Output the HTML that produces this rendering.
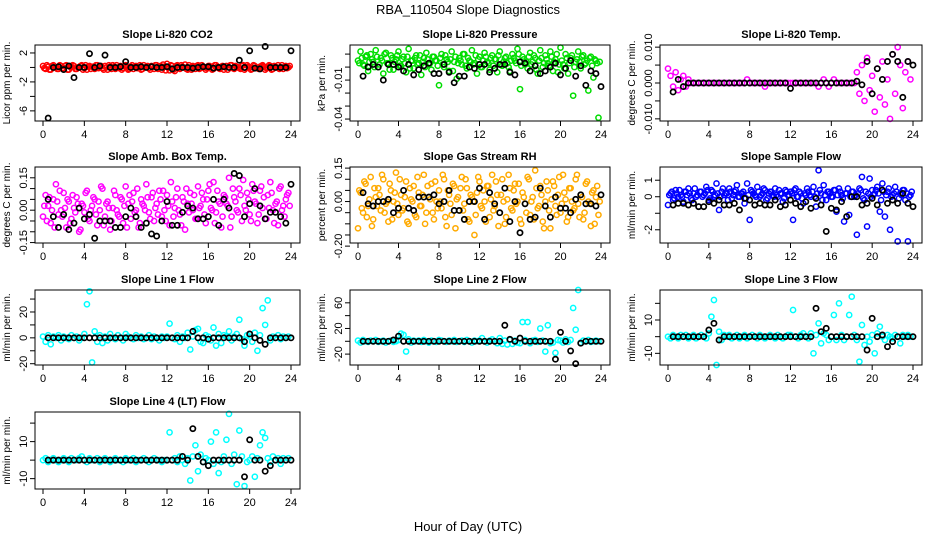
<!DOCTYPE html>
<html><head><meta charset="utf-8">
<style>
body{margin:0;background:#fff;}
svg{display:block;font-family:"Liberation Sans",sans-serif;}
</style></head>
<body>
<svg id="chart" width="936" height="540" viewBox="0 0 936 540" xmlns="http://www.w3.org/2000/svg">
<rect x="0" y="0" width="936" height="540" fill="#fff"/>
<text x="468" y="14" font-size="13" text-anchor="middle">RBA_110504  Slope Diagnostics</text>
<text x="468" y="531" font-size="13" text-anchor="middle">Hour of Day (UTC)</text>
<g id="panels"></g>
</svg>
<script>
// ---- data (colored series sampled every 0.25 h, second colored series offset by 0.125 h, black series every 0.5 h from 0.5) ----
const xTicks = [0,4,8,12,16,20,24];
const xTickLabels = ['0','4','8','12','16','20','24'];

const co2Color = [0.2,-0.2,0.1,-0.3,0.3,0,-0.2,0.2,-0.1,0.3,-0.3,0.1,0.2,-0.2,0,0.3,-0.1,-0.3,0.2,0.1,-0.2,0.3,0,-0.1,0.2,-0.3,0.1,0.3,-0.2,0,0.2,-0.1,0.3,-0.3,0.1,-0.2,0.2,0,-0.3,0.3,0.1,-0.1,0.2,-0.2,0.3,0,-0.3,0.1,0.5,-0.4,0.2,-0.5,0.3,-0.2,0.1,0.4,-0.3,0,0.2,-0.2,0.3,-0.1,0.1,-0.3,0.2,0,-0.2,0.3,-0.1,0.1,-0.3,0.2,0,0.3,-0.2,0.1,-0.1,0.2,-0.3,0.3,0,-0.2,0.2,-0.1,0.1,0.3,-0.3,0,0.2,-0.2,0.1,0.3,-0.1,-0.2,0.2,0];
const co2Color2 = [-0.1,0.3,-0.3,0.2,0,-0.2,0.3,-0.1,0.2,-0.3,0.1,0.3,-0.2,0,0.2,-0.3,0.3,0.1,-0.2,0,0.3,-0.1,0.2,-0.3,0,0.3,-0.2,0.1,0.3,-0.1,-0.3,0.2,0,-0.2,0.3,0.1,-0.1,0.3,-0.2,0,0.2,-0.3,0.1,0.3,-0.2,0.2,0.4,-0.4,0.1,0.3,-0.3,0.2,-0.1,0.3,0,-0.2,0.3,-0.3,0.1,0.2,-0.2,0.3,0,-0.1,0.2,-0.3,0.3,0.1,-0.2,0.2,0,-0.3,0.3,-0.1,0.2,0,-0.2,0.3,-0.1,0.1,-0.3,0.3,0,-0.2,0.2,0.1,-0.1,0.3,-0.3,0.2,0,-0.2,0.3,0.1,-0.1,0.2];
const co2Black = [-7,0,0.1,-0.3,0.2,-1.4,0,0,1.9,0,0.2,1.7,0,0,0.1,0.8,0,0,0.1,0,0.1,0,0,0.1,-0.2,0,0,0,-0.1,0,0.1,0.1,-0.1,0,0.1,0,0,1,0,2.3,-0.1,-0.2,2.9,0,0,0,0,2.3];
const co2Ticks = [2,0,-2,-4,-6];
const co2TickLabels = ['2','','-2','','-6'];

const presColor = [5,12,2,8,-3,10,4,13,0,7,-5,11,3,9,-2,6,12,1,8,-4,14,5,-1,9,3,-6,7,11,2,-2,8,5,-14,10,0,6,-3,12,4,-9,7,2,10,-1,5,13,3,-5,8,0,11,4,-2,9,6,-4,12,1,7,3,-3,10,5,14,-17,8,2,-1,11,4,7,-5,13,0,9,3,12,-3,6,-4,15,2,10,-5,7,-22,4,12,-1,9,3,-18,8,-8,5,-39];
const presColor2 = [3,7,1,9,4,6,0,8,2,5,10,3,-2,7,4,9,1,6,3,8,-1,5,7,2,9,4,0,6,3,8,5,1,7,2,9,4,6,-3,8,3,5,10,1,7,4,2,9,6,0,5,8,3,7,1,6,9,2,4,8,0,5,7,3,10,1,6,4,8,2,9,-2,5,7,3,6,1,8,4,10,2,5,-1,7,3,9,0,6,4,8,2,5,7,1,6,3,4];
const presBlack = [-7,0,2,0,-10,2,2,0,-3,2,-6,-2,1,3,-5,-5,2,-4,-12,-7,-7,0,-1,2,2,-4,-1,2,2,-4,-6,4,3,-3,1,-5,-3,0,3,-6,-1,5,-7,1,-14,-3,-5,-15];
const presTicks = [10,0,-10,-20,-30,-40];
const presTickLabels = ['','','-0.01','','','-0.04'];

const tempColor = [4,2,-1,3,-2,1,2,-1,1,0,0,0,0,0,0,0,0,0,0,0,0,0,0,0,0,0,0,0,0,0,0,1,0,0,0,0,0,0,-1,0,0,0,0,0,0,0,0,0,0,0,0,0,0,0,0,0,0,0,0,-1,0,1,0,-1,0,1,0,0,0,0,0,0,0,0,3,-3,5,-5,7,-2,2,-8,4,-4,6,-6,1,-10,8,-3,10,5,-7,3,6,1];
const tempBlack = [-2.5,1,-1,0,0,0,0,0,0,0,0,0,0,0,0,0,0,0,0,0,0,0,0,-1.5,0,0,0,0,0,0,0,0,0,0,0,0,0.5,-0.5,6,-3,4,1,6,8,6,-4,6,5];
const tempTicks = [10,5,0,-5,-10];
const tempTickLabels = ['0.010','','0.000','','-0.010'];

const ambColor = [-3,7,2,-6,5,12,-2,0,8,-8,4,-4,1,6,-10,3,-1,9,-5,2,5,-7,0,10,-3,4,-9,1,7,-2,6,-6,11,3,-4,8,0,-8,5,2,12,-1,6,-5,3,9,-3,0,7,-7,4,1,10,-2,6,-9,3,8,0,-4,11,2,5,-6,9,1,13,-1,4,-8,7,3,15,-3,6,0,10,-5,2,8,-2,12,4,-6,9,1,-4,7,13,0,3,-7,11,2,5,8];
const ambColor2 = [2,-5,6,0,-8,4,9,-3,1,5,-6,7,-1,3,-9,2,8,-4,0,6,-2,4,11,-7,3,1,-5,9,0,-3,5,2,-8,7,4,-1,10,-6,3,0,6,-4,8,1,-2,5,9,-5,2,13,-3,6,0,-7,4,10,-1,3,7,-4,1,8,-2,5,12,0,-6,9,3,-3,6,2,-8,10,4,-1,7,14,0,5,-5,9,3,-2,11,6,-4,1,8,-6,4,10,0,-3,7,2];
const ambBlack = [5,-3,-8,-2,-9,-6,1,-4,-2,-13,-5,-5,-5,-8,-8,-3,1,-3,-8,-6,-11,-12,-5,4,-7,-7,-1,2,1,-4,-4,-3,5,-7,5,1,17,16,-3,3,10,2,-4,-1,-1,-3,-6,12];
const ambTicks = [15,10,5,0,-5,-10,-15];
const ambTickLabels = ['0.15','','','0.00','','','-0.15'];

const rhColor = [-12,4,-5,8,-2,11,-8,2,6,-4,10,-1,-9,5,0,13,-6,3,-3,9,-10,1,7,-7,4,-2,12,-5,2,8,-8,0,5,-3,10,-11,3,-6,7,1,-4,11,-1,6,-9,2,-15,4,9,-3,0,7,-7,12,-2,3,-5,10,-10,1,6,-4,8,0,-8,4,-1,11,-6,2,14,-3,7,-9,0,5,-12,9,-2,3,-5,12,1,-7,6,-4,10,-1,3,-8,8,0,-11,5,2,-6];
const rhColor2 = [5,-3,9,-7,1,-11,6,-2,3,12,-5,0,8,-8,4,-1,10,-4,2,-9,6,0,-6,11,-2,3,-10,7,1,-5,9,-3,0,12,-7,5,-1,8,-12,2,6,-4,10,-8,3,0,-6,11,-2,5,-9,7,1,-4,9,-11,3,0,-7,12,-3,5,-1,8,-10,2,-5,10,0,-8,6,-2,3,-12,9,-4,1,7,-6,11,-1,4,-9,6,0,-3,12,-7,2,-5,9,-1,4,-10,7,0];
const rhBlack = [4,-1,-2,0,0,1,-5,-3,5,-3,-4,2,2,2,3,-1,0,5,-4,-4,-8,0,0,6,-8,4,-1,-5,6,-9,0,-14,-1,-8,-7,6,-2,-7,2,-3,-3,-5,1,3,-1,-1,-2,3];
const rhTicks = [15,10,5,0,-5,-10,-15,-20];
const rhTickLabels = ['0.15','','','0.00','','','','-0.20'];

const flowColor = [-0.5,0.2,-0.2,0.4,0,0.1,-0.3,0.3,0.5,-0.1,0.2,0,-0.6,0.3,0.1,0.6,-0.2,0.4,0,0.8,-0.8,0.3,0.1,0.2,0.5,-0.1,0.3,0.7,0,0.2,-0.4,0.8,-1.4,0.3,0.1,0.6,0,0.2,0.4,-0.1,0.3,0.1,0.5,0,0.2,-0.3,0.4,0.1,0.3,-1.4,0.5,0,0.2,-0.4,0.1,0.3,0,0.6,-0.6,1.6,0.2,0.7,-0.2,0.3,0,0.4,-0.9,0.5,0.1,-1.5,0.2,-1.1,0.3,0,-2.3,0.5,1.2,-0.2,-1.8,1.1,0.4,0.2,0.6,-0.9,0.8,-1.2,0.3,-2,0.1,0.6,-2.7,0.2,0.4,-0.2,-2.7,0.1];
const flowColor2 = [0.1,0.3,-0.1,0.2,0.4,0,0.3,0.1,0.2,-0.2,0.5,0.1,0.3,0,0.2,0.4,-0.1,0.3,0.1,0.2,0,0.5,0.2,-0.2,0.3,0.1,0.4,0,0.2,0.3,-0.1,0.1,0.4,0.2,0,0.3,0.1,0.5,-0.2,0.2,0.3,0,0.1,0.4,0.2,-0.1,0.3,0.1,0.2,0.4,0,0.3,-0.1,0.2,0.5,0.1,0.3,0,0.2,0.4,-0.2,0.1,0.3,0.2,0,0.4,0.1,0.3,-0.1,0.2,0.5,0,0.3,0.1,0.2,0.4,-0.1,0.3,0.2,0,0.1,0.4,0.2,-0.2,0.3,0.1,0.5,0,0.2,0.3,-0.1,0.1,0.4,0.2,0,0.3];
const flowBlack = [-0.5,-0.4,-0.4,-0.5,-0.4,-0.6,-0.6,-0.3,-0.4,-0.2,-0.5,-0.5,-0.4,-0.8,-0.1,-0.2,-0.5,-0.4,-0.5,-0.5,-0.2,-0.6,-0.5,-0.2,-0.4,-0.6,-0.3,-0.7,-0.1,-0.5,-2.1,-0.7,-0.8,-0.3,-1.2,0,0,-0.5,-0.4,-0.1,-0.5,0.4,-0.4,-0.2,-0.4,0.2,-0.4,-0.6];
const flowTicks = [1,0,-1,-2];
const flowTickLabels = ['1','0','','-2'];

const l1Color = [1,-3,2,-5,1,0,2,-2,1,0,-1,2,0,1,-2,0,3,26,36,-19,5,-3,2,-4,1,-2,3,0,-1,2,0,-2,3,1,0,-1,2,0,1,-1,0,2,-1,1,0,-2,1,0,1,11,0,-1,2,-3,1,0,4,-9,1,6,7,-3,-4,2,1,-2,8,-6,3,-4,2,1,5,-2,1,3,14,-1,-6,2,1,-3,4,-10,2,23,10,29,-2,1,0,2,-1,1,0,1];
const l1Black = [0,0,0,0,0,0,0,0,0,0,0,0,0,0,0,0,0,0,0,0,0,0,0,0,0,0,0,0,5,0,0,-1,0,0,0,0,0,0,-3,3,0,-2,-5,0,0,0,0,0];
const l1Ticks = [30,20,10,0,-10,-20];
const l1TickLabels = ['','20','','0','','-20'];

const l2Color = [1,-2,2,0,-1,1,0,2,-1,0,1,-2,0,1,-1,0,2,12,10,-16,3,-2,1,0,1,-1,2,0,-2,1,0,-1,2,1,0,-1,1,0,2,-1,0,1,-1,2,0,-2,1,0,1,5,0,-2,1,3,0,-3,5,-4,1,-5,2,-4,1,-2,-3,30,2,30,-3,1,2,-1,20,1,-16,25,-3,-2,-18,2,1,-2,3,-1,2,52,18,80,-2,1,0,2,-1,0,1,0];
const l2Black = [0,0,0,0,0,0,2,8,0,0,0,0,0,0,0,0,0,0,0,0,0,0,0,0,0,0,0,0,25,3,0,5,0,0,0,0,0,0,-28,14,0,-15,-35,-3,0,0,0,0];
const l2Ticks = [60,40,20,0,-20];
const l2TickLabels = ['60','','20','','-20'];

const l3Color = [0,-1,1,0,-1,1,0,1,-1,0,1,-1,0,1,0,-1,2,12,22,-17,3,-2,1,0,1,-1,0,1,-1,0,1,-1,0,1,0,-1,1,0,-1,0,1,0,-1,1,0,-1,0,1,1,16,0,-1,1,2,0,-1,2,-10,1,8,-4,2,1,-2,0,13,-2,20,1,-2,0,13,24,1,-2,-15,7,-5,0,-3,1,-10,2,6,0,-2,1,0,-1,1,0,-4,1,0,1,0];
const l3Black = [0,0,0,0,0,0,0,4,8,-2,0,0,0,0,0,0,0,0,0,0,0,0,0,0,0,0,0,0,17,3,5,0,0,0,0,0,0,0,-8,11,0,1,-6,-3,0,0,0,0];
const l3Ticks = [20,10,0,-10];
const l3TickLabels = ['','10','','-10'];

const l4Color = [0,1,-1,0,1,0,-1,0,1,0,-1,1,0,0,1,2,0,-1,1,0,0,1,-1,0,1,0,-1,0,1,0,0,-1,1,0,0,1,-1,0,0,1,0,-1,0,1,0,0,-1,0,0,15,0,1,-1,2,0,-2,1,-11,2,8,-6,3,-1,1,0,10,-2,15,-7,-1,2,11,25,-2,3,-13,16,2,-14,-1,0,2,-9,1,8,15,12,1,-1,2,0,1,-2,1,0,1];
const l4Black = [0,0,0,0,0,0,0,0,0,0,0,0,0,0,0,0,0,0,0,0,0,0,0,0,0,0,2,0,17,2,-1,-3,0,0,0,0,0,0,-9,11,0,0,-6,-3,0,0,0,0];
const l4Ticks = [20,10,0,-10];
const l4TickLabels = ['','10','','-10'];

// ---- panel layout ----
const panels = [
  {name:'co2',title:'Slope Li-820 CO2',ylab:'Licor ppm per min.',col:0,row:0,dom:[-7.4,3.1],c:co2Color,c2:co2Color2,b:co2Black,t:co2Ticks,tl:co2TickLabels,color:'#ff0000'},
  {name:'pressure',title:'Slope Li-820 Pressure',ylab:'kPa per min.',col:1,row:0,dom:[-41.5,17],c:presColor,c2:presColor2,b:presBlack,t:presTicks,tl:presTickLabels,color:'#00dd00'},
  {name:'temp',title:'Slope Li-820 Temp.',ylab:'degrees C per min.',col:2,row:0,dom:[-10.6,10.6],c:tempColor,c2:[],b:tempBlack,t:tempTicks,tl:tempTickLabels,color:'#ff00ff'},
  {name:'amb-box-temp',title:'Slope Amb. Box Temp.',ylab:'degrees C per min.',col:0,row:1,dom:[-15.2,20],c:ambColor,c2:ambColor2,b:ambBlack,t:ambTicks,tl:ambTickLabels,color:'#ff00ff'},
  {name:'gas-rh',title:'Slope Gas Stream RH',ylab:'percent per min.',col:1,row:1,dom:[-18.6,15.5],c:rhColor,c2:rhColor2,b:rhBlack,t:rhTicks,tl:rhTickLabels,color:'#ffaa00'},
  {name:'sample-flow',title:'Slope Sample Flow',ylab:'ml/min per min.',col:2,row:1,dom:[-2.8,1.8],c:flowColor,c2:flowColor2,b:flowBlack,t:flowTicks,tl:flowTickLabels,color:'#0000ff'},
  {name:'line1-flow',title:'Slope Line 1 Flow',ylab:'ml/min per min.',col:0,row:2,dom:[-21,37],c:l1Color,c2:[],b:l1Black,t:l1Ticks,tl:l1TickLabels,color:'#00ffff'},
  {name:'line2-flow',title:'Slope Line 2 Flow',ylab:'ml/min per min.',col:1,row:2,dom:[-37,80],c:l2Color,c2:[],b:l2Black,t:l2Ticks,tl:l2TickLabels,color:'#00ffff'},
  {name:'line3-flow',title:'Slope Line 3 Flow',ylab:'ml/min per min.',col:2,row:2,dom:[-17,28],c:l3Color,c2:[],b:l3Black,t:l3Ticks,tl:l3TickLabels,color:'#00ffff'},
  {name:'line4-flow',title:'Slope Line 4 (LT) Flow',ylab:'ml/min per min.',col:0,row:3,dom:[-15.6,26],c:l4Color,c2:[],b:l4Black,t:l4Ticks,tl:l4TickLabels,color:'#00ffff'}
];
const colsX = [[35,300],[350,610],[660,922]];
const rowsY = [[45,121],[167,243],[290,365],[412,489]];
const NS = 'http://www.w3.org/2000/svg';
function mk(tag, attrs, parent){
  const e = document.createElementNS(NS, tag);
  for (const k in attrs) e.setAttribute(k, attrs[k]);
  parent.appendChild(e); return e;
}
const root = document.getElementById('panels');
panels.forEach(p => {
  const [L,R] = colsX[p.col], [T,B] = rowsY[p.row];
  const xs = h => L + 8 + h/24*(R-L-17);
  const ys = v => B - (v - p.dom[0])/(p.dom[1]-p.dom[0])*(B-T);
  const g = mk('g', {}, root);
  
  
  const title = mk('text', {x:(L+R)/2, y:T-7, 'font-size':11, 'font-weight':'bold', 'text-anchor':'middle'}, g);
  title.textContent = p.title;
  
  
  const yl = mk('text', {x:0, y:0, 'font-size':10, 'text-anchor':'middle', transform:`translate(${L-25},${(T+B)/2}) rotate(-90)`}, g);
  yl.textContent = p.ylab;
  
  
  const pts = mk('g', {}, g);
  
  
  p.c.forEach((v,i) => {
    const c = mk('circle', {cx:xs(i*0.25), cy:ys(v), r:2.6, fill:'none', stroke:p.color, 'stroke-width':1.5}, pts);
    
    
  });
  p.c2.forEach((v,i) => {
    const c = mk('circle', {cx:xs(0.125+i*0.25), cy:ys(v), r:2.6, fill:'none', stroke:p.color, 'stroke-width':1.5}, pts);
    
    
  });
  const bpts = mk('g', {}, g);
  
  
  p.b.forEach((v,i) => {
    const c = mk('circle', {cx:xs(0.5+i*0.5), cy:ys(v), r:2.6, fill:'none', stroke:'#000', 'stroke-width':1.7}, bpts);
    
    
  });
  const box = mk('rect', {x:L, y:T, width:R-L, height:B-T, fill:'none', stroke:'#000', 'stroke-width':1}, g);
  
  
  xTicks.forEach((t,i) => {
    mk('line', {x1:xs(t), x2:xs(t), y1:B, y2:B+5, stroke:'#000'}, g);
    const tx = mk('text', {x:xs(t), y:B+17, 'font-size':11, 'text-anchor':'middle'}, g);
    tx.textContent = xTickLabels[i];
    
    
  });
  p.t.forEach((t,i) => {
    mk('line', {x1:L-5, x2:L, y1:ys(t), y2:ys(t), stroke:'#000'}, g);
    if (p.tl[i]) {
      const tx = mk('text', {x:0, y:0, 'font-size':11, 'text-anchor':'middle', transform:`translate(${L-8},${ys(t)}) rotate(-90)`}, g);
      tx.textContent = p.tl[i];
      
      
    }
  });
});
</script>
</body></html>
